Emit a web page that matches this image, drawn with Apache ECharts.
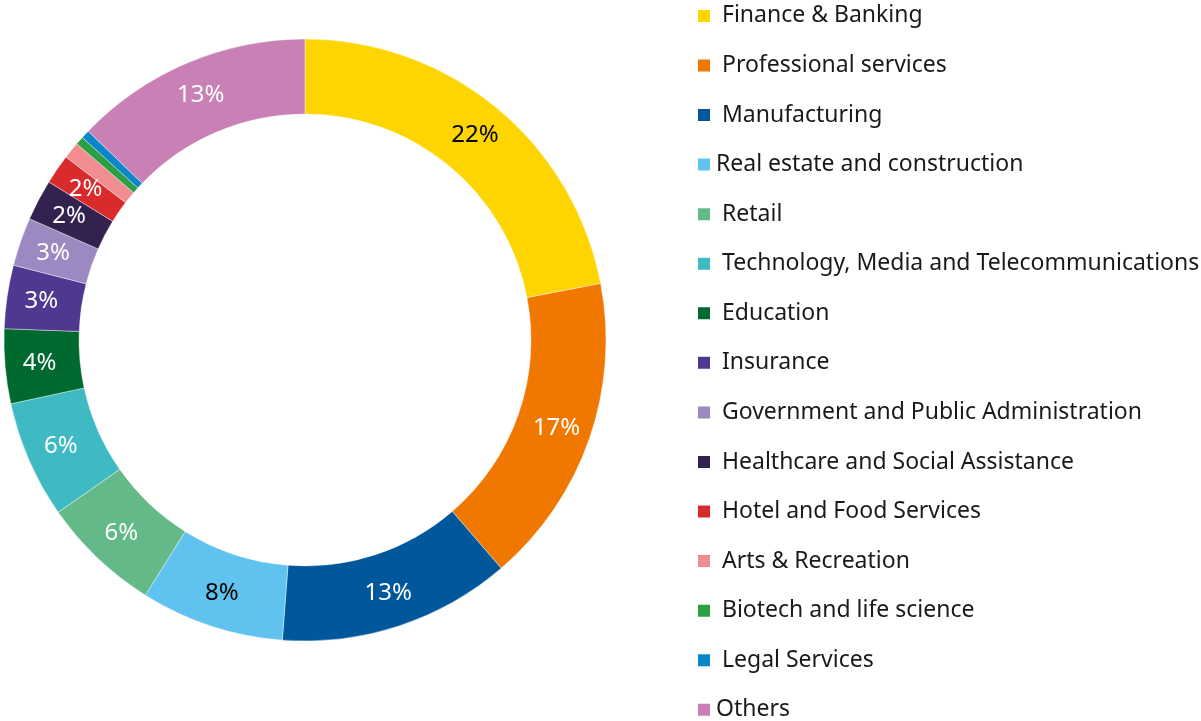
<style>body { margin: 0; }</style>
<div id="main" style="width: 1201px; height: 721px"></div>
<script src="https://cdn.jsdelivr.net/npm/echarts@6/dist/echarts.min.js"></script>
<script>
  // sectors, clockwise from 12 o'clock
  const names = [
    ' Finance & Banking',
    ' Professional services',
    ' Manufacturing',
    'Real estate and construction',
    ' Retail',
    ' Technology, Media and Telecommunications',
    ' Education',
    ' Insurance',
    ' Government and Public Administration',
    ' Healthcare and Social Assistance',
    ' Hotel and Food Services',
    ' Arts & Recreation',
    ' Biotech and life science',
    ' Legal Services',
    'Others',
  ];
  const values = [22, 16.7, 12.5, 7.7, 6.4, 6.3, 4.0, 3.4, 2.6, 2.2, 1.6, 0.9, 0.45, 0.45, 12.8];
  const colors = [
    '#FED500', '#F07800', '#01579B', '#60C3EF', '#63BA88',
    '#3FBAC2', '#00692F', '#4F3890', '#9D89C1', '#33214F',
    '#D92B2B', '#F18C90', '#2E9E44', '#0887CA', '#C880B5',
  ];
  const labelColors = [
    '#000', '#fff', '#fff', '#000', '#fff', '#fff', '#fff', '#fff',
    '#fff', '#fff', '#fff', '#fff', '#fff', '#fff', '#fff',
  ];
  const minLabelValue = 1;

  var chartDom = document.getElementById('main');
  var myChart = echarts.init(chartDom);
  var option;

  option = {
    color: colors,
    legend: {
      orient: 'vertical',
      left: 696,
      top: -3,
      height: 780,
      padding: 0,
      icon: 'rect',
      itemWidth: 14,
      itemHeight: 14,
      itemGap: 11.8,
      selectedMode: false,
      textStyle: {
        fontFamily: 'Noto Sans',
        fontSize: 23,
        color: '#1a1a1a',
      },
      data: names,
    },
    series: [
      {
        type: 'pie',
        center: [305, 340],
        radius: [226, 301],
        startAngle: 90,
        clockwise: true,
        avoidLabelOverlap: false,
        itemStyle: { borderColor: '#fff', borderWidth: 0.4 },
        label: {
          position: 'inside',
          fontFamily: 'Noto Sans',
          fontSize: 24,
          formatter: (p) => (p.value >= minLabelValue ? Math.round(p.value) + '%' : ''),
        },
        labelLayout: { hideOverlap: false },
        labelLine: { show: false },
        emphasis: { disabled: true },
        data: names.map((n, i) => ({
          name: n,
          value: values[i],
          label: { color: labelColors[i] },
        })),
      },
    ],
    animation: false,
  };

  option && myChart.setOption(option);
</script>
